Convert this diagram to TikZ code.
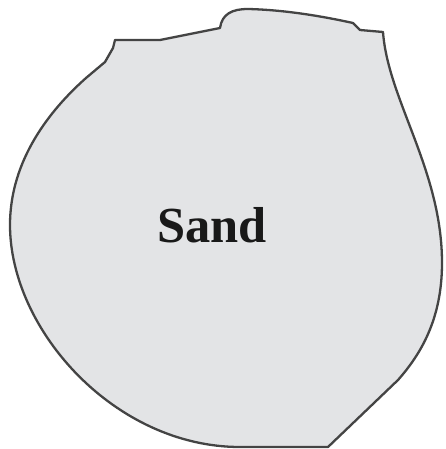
\documentclass[tikz,border=0pt]{standalone}
\usepackage{fontspec}
\setmainfont{Liberation Serif}
\definecolor{sandfill}{HTML}{E3E4E6}
\definecolor{sandline}{HTML}{444444}
\begin{document}
\begin{tikzpicture}[x=1pt,y=-1pt,
  blob/.style={fill=sandfill,draw=sandline,line width=2.3pt,line join=round},
  lbl/.style={font=\fontsize{50.5}{60}\selectfont\bfseries,text=black!90}]
\useasboundingbox (0,0) rectangle (445,449);
\path[blob]
  (383,32) .. controls (388,100) and (442,170) .. (442,263)
  .. controls (442,320) and (420,355) .. (398,380)
  -- (328,447) -- (240,447)
  .. controls (115,447) and (10,330) .. (10,225)
  .. controls (10,160) and (50,110) .. (86,78)
  -- (105,62) -- (113,48) -- (115,40) -- (160,40) -- (220,28)
  .. controls (222,14) and (232,9) .. (248,9)
  .. controls (290,10) and (330,18) .. (353,23)
  -- (360,30) -- cycle;
\node[lbl] (sand) at (212,225) {Sand};
\end{tikzpicture}
\end{document}
